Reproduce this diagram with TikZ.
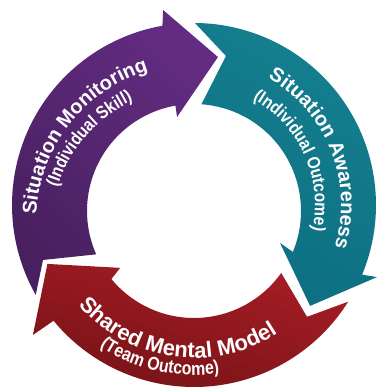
\documentclass[tikz,border=0pt]{standalone}
\usepackage{fontspec}
\setmainfont{Liberation Sans}
\newfontfamily\narrowsans{Liberation Sans}[FakeStretch=0.86]
\usetikzlibrary{calc,decorations.text}

\definecolor{smLight}{HTML}{632C82}
\definecolor{smDark}{HTML}{48205F}
\definecolor{saLight}{HTML}{15808F}
\definecolor{saDark}{HTML}{0C6E82}
\definecolor{mmLight}{HTML}{A81D25}
\definecolor{mmDark}{HTML}{761317}

% label fonts for the arcs
\newcommand\lblbig[1]{\bfseries\fontsize{#1}{#1}\selectfont\color{white}}
\newcommand\lblsub[1]{\narrowsans\bfseries\fontsize{#1}{#1}\selectfont\color{white}}

\tikzset{
  purplearrow/.style={top color=smLight, bottom color=smDark, shading angle=-45},
  tealarrow/.style={top color=saLight, bottom color=saDark, shading angle=-30},
  redarrow/.style={left color=mmLight, right color=mmDark, shading angle=-15},
  arclabel/.style={decorate, decoration={text along path, text align=center, text={#1}}}
}

\begin{document}
\begin{tikzpicture}[x=1pt,y=1pt]
\useasboundingbox (0,0) rectangle (379,390);
\fill[white] (0,0) rectangle (379,390);

% centres of the outer and inner rims of the ring
\coordinate (Co) at (194,185);
\coordinate (Ci) at (194,179);

% Situation Monitoring arrow
\shade[purplearrow]
  ($(Co)+(209.6:182)$) arc[start angle=209.6, end angle=100, radius=182]
  -- ($(Co)+(99:197.4)$) -- ($(Co)+(80.8:149.9)$) -- ($(Co)+(100.9:89.6)$)
  -- ($(Ci)+(100:107)$) arc[start angle=100, end angle=203.9, radius=107]
  -- ($(Co)+(200:160.7)$) -- cycle;

% Situation Awareness arrow
\shade[tealarrow]
  ($(Co)+(89.7:182)$) arc[start angle=89.7, end angle=-22.5, radius=182]
  -- ($(Co)+(-21.5:196.7)$) -- ($(Co)+(-41:153.8)$) -- ($(Co)+(-23.8:94)$)
  -- ($(Ci)+(-22.5:107)$) arc[start angle=-22.5, end angle=86, radius=107]
  -- ($(Co)+(77.9:152.4)$) -- cycle;

% Shared Mental Model arrow
\shade[redarrow]
  ($(Co)+(-32.1:182)$) arc[start angle=-32.1, end angle=-140.5, radius=182]
  -- ($(Co)+(-141.1:207)$) -- ($(Co)+(-158.1:158)$) -- ($(Co)+(-139.6:97)$)
  -- ($(Ci)+(-140.5:107)$) arc[start angle=-140.5, end angle=-35.4, radius=107]
  -- ($(Co)+(-44.7:159)$) -- cycle;

% labels on the purple arc
\path[arclabel={|\lblbig{20}|Situation Monitoring}]
  ($(194,168)+(178:158)$) arc[start angle=178, end angle=106, radius=158];
\path[arclabel={|\lblsub{18}|(Individual Skill)}]
  ($(194,160)+(165:143)$) arc[start angle=165, end angle=113, radius=143];

% labels on the teal arc
\path[arclabel={|\lblbig{20}|Situation Awareness}]
  ($(Co)+(62:147)$) arc[start angle=62, end angle=-19, radius=147];
\path[arclabel={|\lblsub{18}|(Individual Outcome)}]
  ($(Co)+(63:121)$) arc[start angle=63, end angle=-14, radius=121];

% labels on the red arc
\path[arclabel={|\lblbig{22}|Shared Mental Model}]
  ($(Co)+(216:153)$) arc[start angle=216, end angle=308, radius=153];
\path[arclabel={|\lblsub{18.5}|(Team Outcome)}]
  ($(Co)+(232:170)$) arc[start angle=232, end angle=283, radius=170];
\end{tikzpicture}
\end{document}
